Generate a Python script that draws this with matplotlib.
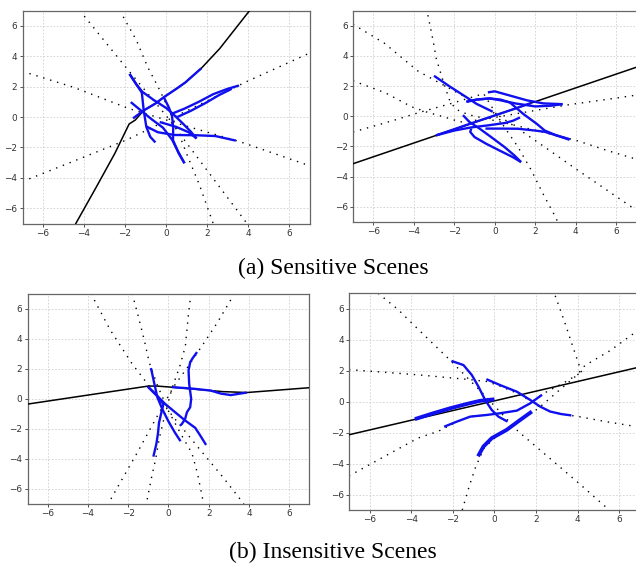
import numpy as np
import matplotlib
matplotlib.use("Agg")
import matplotlib.pyplot as plt

# (a) left: sensitive scene 1
a1_road = [(-4.4, -7.0), (-3.4, -4.6), (-2.5, -2.4), (-1.8, -0.46), (-1.5, -0.2), (-1.09, 0.43),
           (-0.5, 0.9), (-0.11, 1.3), (0.5, 1.85), (0.95, 2.28), (1.72, 3.2), (2.62, 4.5), (4.08, 7.0)]
a1_lanes = [
    [(-4.21, 7.0), (-2.1, 3.5), (0.0, 0.1), (2.0, -3.5), (3.95, -7.0)],
    [(-2.26, 7.0), (-1.45, 5.06), (-0.9, 3.3), (-0.3, 1.75), (0.4, -0.3), (1.0, -2.4), (1.64, -4.5), (2.3, -7.0)],
    [(-7.0, 3.0), (-4.5, 1.95), (-1.8, 0.55), (1.0, -0.6), (3.6, -1.62), (7.0, -3.2)],
    [(-7.0, -4.24), (-4.5, -2.9), (-1.93, -1.51), (1.0, 0.4), (3.92, 2.32), (7.0, 4.2)],
]
a1_trajs = [
    [(-1.78, 2.83), (-1.45, 2.15), (-1.18, 1.6), (-1.09, 0.45), (-0.96, -0.65), (-0.77, -1.3), (-0.52, -1.67)],
    [(-1.78, 2.83), (-1.45, 2.15), (-1.15, 1.65), (-0.6, 1.12), (0.0, 0.6), (0.3, 0.25), (0.8, -0.4), (1.2, -0.95), (1.49, -1.41)],
    [(-1.72, 0.98), (-1.2, 0.4), (-0.7, -0.15), (-0.15, -0.7), (0.3, -1.5), (0.6, -2.3), (0.9, -3.04)],
    [(-0.11, 1.3), (0.13, 0.65), (0.29, 0.1), (0.35, -0.7), (0.34, -1.52), (0.62, -2.39), (0.9, -3.04)],
    [(-1.61, -0.09), (-1.09, 0.43), (-0.5, 0.9), (-0.11, 1.3), (0.5, 1.85), (0.95, 2.28), (1.3, 2.7), (1.72, 3.2)],
    [(0.29, 0.22), (0.9, 0.55), (1.6, 1.0), (2.3, 1.5), (3.0, 1.85), (3.56, 2.07)],
    [(0.55, 0.0), (1.2, 0.4), (1.9, 0.9), (2.6, 1.45), (3.2, 1.85)],
    [(-0.31, -0.33), (0.5, -0.65), (1.1, -1.0), (1.49, -1.41)],
    [(-0.96, -0.62), (-0.4, -1.0), (0.4, -1.18), (1.5, -1.2), (2.4, -1.25), (3.4, -1.55)],
]

# (a) right: sensitive scene 2
a2_road = [(-7.0, -3.15), (7.0, 3.25)]
a2_lanes = [
    [(-7.0, 6.1), (-5.44, 4.83), (-3.8, 3.0), (-1.5, 1.3), (0.2, 0.04), (2.23, -1.82), (3.98, -3.47), (6.86, -6.11), (7.0, -6.2)],
    [(-3.3, 6.7), (-3.05, 5.05), (-2.89, 3.84), (-2.64, 2.73), (-2.4, 1.73), (-2.2, 0.95), (-1.9, 0.45), (-1.3, 0.1),
     (-0.3, -0.2), (1.0, -0.6), (2.5, -1.1), (4.02, -1.6), (5.5, -2.25), (7.0, -2.85)],
    [(-7.0, 2.35), (-5.4, 1.55), (-4.1, 0.62), (-3.3, 0.25), (-2.5, -0.05), (-1.7, -0.38), (-0.5, -0.2), (1.0, 0.15),
     (2.5, 0.5), (3.69, 0.77), (5.3, 1.07), (7.0, 1.4)],
    [(-7.0, -1.05), (-5.0, -0.28), (-3.6, 0.3), (-2.0, 0.9), (-0.55, 1.5), (0.0, 0.3), (0.49, -0.75), (1.14, -2.02),
     (1.8, -3.57), (2.46, -5.34), (3.04, -6.78), (3.1, -7.0)],
]
a2_trajs = [
    [(-3.0, 2.68), (-2.2, 1.95), (-1.5, 1.35), (-0.9, 0.82), (-0.1, 0.3)],
    [(-1.4, 0.96), (-0.9, 1.1), (-0.26, 1.18), (0.23, 1.07), (1.05, 0.84), (2.0, 0.65), (2.8, 0.7), (3.35, 0.8)],
    [(-1.4, 0.96), (-0.9, 1.1), (-0.26, 1.18), (0.3, 1.1), (0.76, 0.9), (1.41, 0.15), (2.07, -0.5), (2.47, -0.95),
     (3.0, -1.25), (3.69, -1.56)],
    [(-0.34, 1.58), (0.0, 1.65), (0.8, 1.35), (1.6, 1.05), (2.4, 0.85), (3.35, 0.8)],
    [(-2.9, -1.27), (-2.0, -0.86), (-1.0, -0.4), (0.0, 0.05), (1.0, 0.5), (1.8, 0.88)],
    [(-2.9, -1.27), (-2.0, -0.95), (-1.2, -0.75), (-0.3, -0.6), (0.5, -0.45), (0.9, -0.3), (1.25, -0.08)],
    [(-0.46, -0.82), (0.3, -0.82), (1.14, -0.83), (1.8, -0.92), (2.46, -1.03), (3.0, -1.25), (3.7, -1.52)],
    [(-1.57, 0.07), (-1.25, -0.38), (-0.75, -0.82), (-0.18, -1.38), (0.48, -2.04), (0.97, -2.6), (1.3, -3.04)],
    [(-1.16, -0.82), (-1.21, -1.04), (-1.0, -1.38), (-0.43, -1.82), (0.23, -2.27), (0.89, -2.71), (1.3, -3.04)],
]

# (b) left: insensitive scene 1
b1_road = [(-7.0, -0.35), (-1.0, 0.85), (-0.57, 0.85), (0.3, 0.76), (1.5, 0.62), (2.7, 0.48), (3.9, 0.42), (7.0, 0.74)]
b1_lanes = [
    [(-3.85, 7.0), (-2.9, 4.6), (-1.82, 2.36), (-0.9, 0.75), (0.3, -1.3), (1.58, -3.4), (2.7, -5.2), (3.75, -7.0)],
    [(-1.8, 7.0), (-1.5, 5.5), (-1.2, 3.9), (-0.95, 2.4), (-0.55, 0.9), (0.0, -0.8), (0.6, -2.3), (1.17, -3.63),
     (1.45, -5.0), (1.75, -7.0)],
    [(1.12, 7.0), (1.0, 5.7), (0.84, 3.5), (0.55, 2.1), (0.2, 0.8), (-0.15, -0.9), (-0.45, -2.6), (-0.62, -3.9),
     (-0.85, -5.3), (-1.1, -7.0)],
    [(3.28, 7.0), (2.41, 5.03), (1.75, 3.69), (1.0, 2.2), (0.26, 0.81), (-0.7, -1.5), (-1.57, -3.63), (-2.23, -5.18), (-3.0, -7.0)],
]
b1_trajs = [
    [(-0.87, 2.05), (-0.78, 1.5), (-0.7, 1.0), (-0.55, 0.1), (-0.3, -0.7), (0.0, -1.5), (0.3, -2.2), (0.6, -2.82)],
    [(-1.03, 0.82), (-0.58, 0.22), (-0.17, -0.33), (0.33, -0.89), (0.83, -1.44), (1.33, -1.93), (1.58, -2.44), (1.87, -3.07)],
    [(-1.03, 0.82), (-0.58, 0.22), (-0.25, -0.35), (-0.35, -0.9), (-0.47, -1.6), (-0.52, -2.3), (-0.6, -3.0), (-0.75, -3.85)],
    [(1.42, 3.11), (1.2, 2.7), (1.08, 2.44), (1.0, 1.89), (1.03, 1.0), (1.13, 0.0), (1.08, -0.56), (0.92, -0.89),
     (0.83, -1.33), (0.67, -1.67), (0.58, -1.78)],
    [(0.17, 0.78), (1.2, 0.68), (2.1, 0.55), (2.6, 0.35), (3.1, 0.25), (3.9, 0.42)],
]

# (b) right: insensitive scene 2
b2_road = [(-7.0, -2.14), (7.0, 2.24)]
b2_lanes = [
    [(-5.6, 7.0), (-4.64, 5.95), (-3.67, 4.67), (-2.23, 2.8), (-0.5, 0.45), (1.14, -1.92), (2.74, -3.75), (4.0, -5.2),
     (5.31, -6.75), (5.5, -7.0)],
    [(-7.0, 2.07), (-3.67, 1.73), (-1.17, 1.42), (-0.37, 1.3), (0.27, 1.0), (1.08, 0.55), (1.72, 0.05), (2.2, -0.35),
     (2.68, -0.64), (3.3, -0.82), (4.03, -0.96), (5.31, -1.28), (7.0, -1.65)],
    [(-7.0, -4.8), (-5.28, -3.53), (-3.67, -2.35), (-2.71, -1.92), (-1.81, -1.3), (-1.17, -0.97), (-0.37, -0.86),
     (0.27, -0.75), (1.08, -0.58), (1.72, -0.11), (2.28, 0.47), (3.38, 1.25), (4.19, 1.9)],
    [(4.19, 1.9), (3.78, 3.51), (3.38, 5.13), (2.88, 7.0)],
    [(-1.55, -7.0), (-1.2, -5.4), (-0.9, -4.2), (-0.5, -3.0), (0.0, -2.35), (0.6, -1.8), (1.24, -1.18), (2.08, -0.47),
     (3.0, 0.6), (3.94, 1.68), (4.35, 2.33), (5.57, 3.3), (6.78, 4.48), (7.0, 4.65)],
]
b2_trajs = [
    [(-2.07, 2.63), (-1.49, 2.36), (-1.09, 1.72), (-0.77, 0.97), (-0.45, 0.11), (-0.13, -0.54), (0.19, -0.97), (0.63, -1.29)],
    [(-0.39, 1.45), (0.27, 1.07), (1.08, 0.64), (1.72, 0.11), (2.2, -0.32), (2.68, -0.64), (3.2, -0.8), (3.7, -0.89)],
    [(-2.42, -1.62), (-1.81, -1.29), (-1.17, -0.97), (-0.37, -0.86), (0.27, -0.75), (1.08, -0.58), (1.72, -0.11), (2.29, 0.44)],
]
b2_trajs_bold = [
    [(-3.83, -1.13), (-2.94, -0.75), (-2.13, -0.43), (-1.33, -0.15), (-0.7, 0.05), (0.0, 0.15)],
    [(-0.79, -3.53), (-0.53, -2.9), (-0.13, -2.36), (0.59, -1.82), (1.24, -1.18), (1.8, -0.64)],
]

ticks = [-6, -4, -2, 0, 2, 4, 6]
captions = ["(a) Sensitive Scenes", "(b) Insensitive Scenes"]

fig = plt.figure(figsize=(6.36, 5.65), dpi=100)

boxes = [
    [0.0354, 0.6044, 0.4513, 0.3770],
    [0.5550, 0.6074, 0.4458, 0.3738],
    [0.0434, 0.1080, 0.4429, 0.3722],
    [0.5487, 0.0973, 0.4575, 0.3837],
]
panels = [
    (a1_road, a1_lanes, a1_trajs, []),
    (a2_road, a2_lanes, a2_trajs, []),
    (b1_road, b1_lanes, b1_trajs, []),
    (b2_road, b2_lanes, b2_trajs, b2_trajs_bold),
]


def xy(pts):
    a = np.array(pts)
    return a[:, 0], a[:, 1]


for box, (road, lanes, trajs, bold) in zip(boxes, panels):
    ax = fig.add_axes(box)
    ax.set_xlim(-7, 7)
    ax.set_ylim(-7, 7)
    ax.set_xticks(ticks)
    ax.set_yticks(ticks)
    ax.grid(True, color="#cfcfcf", linestyle=(0, (2, 2)), linewidth=0.6)
    ax.set_axisbelow(True)
    for s in ax.spines.values():
        s.set_color("#666666")
        s.set_linewidth(0.9)
    ax.tick_params(labelsize=6.4, colors="#333333", length=2, width=0.6, pad=1.8)

    for lane in lanes:
        x, y = xy(lane)
        ax.plot(x, y, color="black", linewidth=1.0, linestyle=(0, (1, 4.2)), zorder=2)
    x, y = xy(road)
    ax.plot(x, y, color="black", linewidth=1.1, zorder=3)
    for t in trajs:
        x, y = xy(t)
        ax.plot(x, y, color="#1010ee", linewidth=1.7, solid_capstyle="butt", zorder=4)
    for t in bold:
        x, y = xy(t)
        ax.plot(x, y, color="#1010ee", linewidth=2.8, solid_capstyle="butt", zorder=4)

serif = ["Liberation Serif", "DejaVu Serif"]
fig.text(0.5236, 0.5257, captions[0], ha="center", va="center", fontsize=17, family=serif)
fig.text(0.5236, 0.0230, captions[1], ha="center", va="center", fontsize=17, family=serif)

fig.savefig("out.png", dpi=100)
